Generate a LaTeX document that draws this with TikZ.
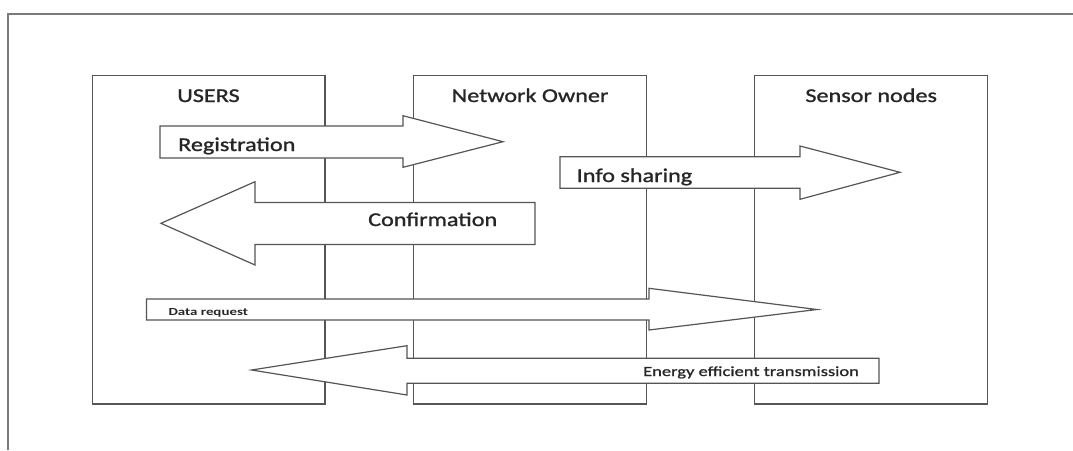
\documentclass[tikz,border=0pt]{standalone}
\usepackage{fontspec}
\newfontfamily\lblfont{Carlito}[FakeStretch=1.24, FakeBold=1.2]
\newfontfamily\smlfont{Carlito}[FakeStretch=1.32, FakeBold=1]
\newfontfamily\tnyfont{Carlito}[FakeStretch=1.38]
\definecolor{framegray}{HTML}{7A7A7A}
\definecolor{edgegray}{HTML}{555555}
\definecolor{inkgray}{HTML}{262626}

\begin{document}
\begin{tikzpicture}[x=1pt, y=-1pt,
  column/.style={draw=edgegray, line width=1.2pt, inner sep=0pt, anchor=north west,
    minimum width=232.8pt, minimum height=328.3pt},
  blockarrow/.style={draw=edgegray, line width=1.2pt, fill=white, line join=miter},
  heading/.style={font=\lblfont\fontsize{19.5}{20}\selectfont, text=inkgray, inner sep=0pt, anchor=base},
  arrowtext/.style={font=\lblfont\fontsize{19.5}{20}\selectfont, text=inkgray, inner sep=0pt, anchor=base west},
  smalltext/.style={font=\smlfont\fontsize{14}{15}\selectfont, text=inkgray, inner sep=0pt, anchor=base west},
  tinytext/.style={font=\tnyfont\bfseries\fontsize{10.8}{11}\selectfont, text=inkgray, inner sep=0pt, anchor=base west}]
  \useasboundingbox (0,0) rectangle (1073,450);
  % outer frame, only top and left edge show
  \draw[framegray, line width=2pt] (8.3,450) -- (8.3,14) -- (1073,14);

  % the three columns
  \node[column] (users) at (91.5,75) {};
  \node[column] (owner) at (413,75) {};
  \node[column] (sensors) at (754.2,75) {};
  \node[heading] (usershead) at ([yshift=-27pt]users.north) {USERS};
  \node[heading] (ownerhead) at ([yshift=-27pt]owner.north) {Network Owner};
  \node[heading] (sensorshead) at ([yshift=-27pt]sensors.north) {Sensor nodes};

  % registration: users to owner
  \draw[blockarrow] (160,126) -- (403,126) -- (403,115.7) -- (503,141.7)
    -- (403,167.3) -- (403,158) -- (160,158) -- cycle;
  \node[arrowtext] (regtext) at (178,151) {Registration};
  % confirmation: owner back to users
  \draw[blockarrow] (535,202.5) -- (255,202.5) -- (255,181.7) -- (161,223.3)
    -- (255,265) -- (255,244.5) -- (535,244.5) -- cycle;
  \node[arrowtext] (conftext) at (368,226) {Confirmation};
  % info sharing: owner to sensors
  \draw[blockarrow] (560,156.7) -- (800,156.7) -- (800,146) -- (900,172.3)
    -- (800,199.3) -- (800,188.3) -- (560,188.3) -- cycle;
  \node[arrowtext] (infotext) at (576.5,182) {Info sharing};
  % data request: users to sensors
  \draw[blockarrow] (146.5,299) -- (649,299) -- (649,288.3) -- (817,309.5)
    -- (649,330) -- (649,320) -- (146.5,320) -- cycle;
  \node[tinytext] (reqtext) at (168.3,315) {Data request};
  % transmission: sensors back to users
  \draw[blockarrow] (879,358.3) -- (407,358.3) -- (407,345.7) -- (251.5,370)
    -- (407,395) -- (407,383.3) -- (879,383.3) -- cycle;
  \node[smalltext] (txtext) at (643,376) {Energy efficient transmission};
\end{tikzpicture}
\end{document}
